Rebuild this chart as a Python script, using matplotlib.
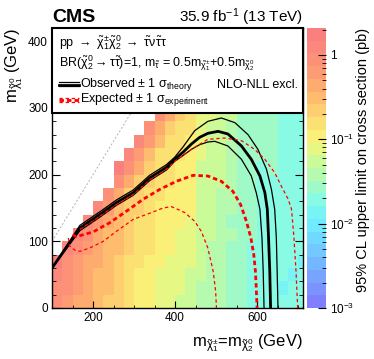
import numpy as np
import matplotlib
matplotlib.use("Agg")
import matplotlib.pyplot as plt
from matplotlib.colors import LinearSegmentedColormap, LogNorm
from matplotlib.patches import Rectangle
from matplotlib.ticker import LogLocator, MultipleLocator, NullFormatter

plt.rcParams['font.family'] = ['Liberation Sans', 'DejaVu Sans']
plt.rcParams['mathtext.fontset'] = 'custom'
plt.rcParams['mathtext.rm'] = 'Liberation Sans'
plt.rcParams['mathtext.it'] = 'Liberation Sans'
plt.rcParams['mathtext.bf'] = 'Liberation Sans:bold'

# bin edges of the limit map (GeV)
x_edges = np.arange(100, 750, 25)
y_edges = np.arange(0, 320, 20)

n = np.nan
# log10 of the 95% CL upper limit (pb), one row per 20 GeV bin in m_LSP (bottom first)
log_limit = [
    [-0.05, -0.15, -0.3, -0.4, -0.5, -0.6, -0.7, -0.85, -0.95, -1.0, -1.1, -1.15, -1.2, -1.25, -1.35, -1.4, -1.45, -1.55, -1.6, -1.65, -1.7, -1.75, -1.75, -1.75, -1.75],
    [0.0, -0.1, -0.25, -0.35, -0.45, -0.55, -0.65, -0.8, -0.9, -0.95, -1.05, -1.1, -1.15, -1.2, -1.35, -1.4, -1.45, -1.55, -1.6, -1.7, -1.7, -1.7, -1.8, -1.75, -1.75],
    [0.05, -0.1, -0.25, -0.35, -0.45, -0.5, -0.6, -0.8, -0.9, -0.95, -1.05, -1.1, -1.15, -1.2, -1.3, -1.45, -1.4, -1.5, -1.6, -1.65, -1.7, -1.75, -1.75, -1.8, -1.75],
    [0.2, -0.05, -0.2, -0.3, -0.4, -0.5, -0.6, -0.75, -0.85, -0.9, -1.0, -1.05, -1.1, -1.15, -1.3, -1.35, -1.4, -1.5, -1.6, -1.65, -1.7, -1.7, -1.75, -1.75, -1.8],
    [n, 0.15, -0.1, -0.25, -0.35, -0.45, -0.55, -0.7, -0.8, -0.85, -0.95, -1.0, -1.05, -1.1, -1.3, -1.35, -1.4, -1.5, -1.6, -1.65, -1.7, -1.7, -1.75, -1.75, -1.75],
    [n, n, 0.15, -0.1, -0.35, -0.45, -0.55, -0.7, -0.8, -0.85, -0.95, -1.0, -1.05, -1.1, -1.25, -1.3, -1.35, -1.45, -1.55, -1.6, -1.65, -1.65, -1.7, -1.7, -1.7],
    [n, n, n, 0.15, -0.15, -0.4, -0.5, -0.65, -0.75, -0.8, -0.9, -0.95, -1.0, -1.05, -1.25, -1.3, -1.35, -1.55, -1.55, -1.6, -1.65, -1.7, -1.7, -1.7, -1.7],
    [n, n, n, n, 0.05, -0.25, -0.45, -0.6, -0.7, -0.8, -0.9, -0.9, -1.0, -1.0, -1.25, -1.3, -1.35, -1.45, -1.55, -1.6, -1.65, -1.65, -1.7, -1.75, -1.7],
    [n, n, n, n, n, 0.0, -0.3, -0.6, -0.7, -0.75, -0.85, -0.9, -0.95, -1.0, -1.2, -1.25, -1.4, -1.4, -1.55, -1.6, -1.65, -1.65, -1.7, -1.7, -1.7],
    [n, n, n, n, n, n, -0.05, -0.35, -0.65, -0.7, -0.8, -0.85, -0.9, -0.95, -1.2, -1.25, -1.3, -1.4, -1.55, -1.6, -1.65, -1.65, -1.7, -1.7, -1.7],
    [n, n, n, n, n, n, 0.2, -0.1, -0.4, -0.7, -0.8, -0.85, -0.9, -0.95, -1.2, -1.25, -1.3, -1.4, -1.5, -1.6, -1.65, -1.6, -1.7, -1.7, -1.7],
    [n, n, n, n, n, n, n, 0.15, -0.15, -0.45, -0.75, -0.8, -0.85, -0.9, -1.15, -1.2, -1.25, -1.35, -1.5, -1.55, -1.6, -1.6, -1.65, -1.65, -1.65],
    [n, n, n, n, n, n, n, n, 0.05, -0.25, -0.55, -0.75, -0.85, -0.9, -1.15, -1.2, -1.25, -1.35, -1.5, -1.55, -1.6, -1.6, -1.65, -1.65, -1.65],
    [n, n, n, n, n, n, n, n, n, 0.0, -0.3, -0.6, -0.8, -0.85, -1.15, -1.2, -1.25, -1.35, -1.5, -1.55, -1.6, -1.6, -1.65, -1.65, -1.65],
    [n, n, n, n, n, n, n, n, n, n, -0.05, -0.35, -0.65, -0.8, -1.1, -1.15, -1.2, -1.3, -1.5, -1.55, -1.6, -1.6, -1.65, -1.65, -1.65],
]

# exclusion contours (m_chi, m_LSP) in GeV
obs_x = [100, 168, 216, 257, 298, 338, 379, 399, 420, 440, 460, 480, 505, 529, 562, 586, 607, 619, 625, 628, 631, 633]
obs_y = [60, 120, 140, 158, 173, 195, 211, 223, 234, 246, 256, 262, 265, 261, 243, 223, 198, 173, 148, 105, 55, 0]
obs_up_x = [100, 168, 216, 257, 298, 338, 379, 399, 420, 448, 480, 513, 546, 578, 602, 623, 635, 643, 647, 649, 651]
obs_up_y = [60, 124, 144, 162, 177, 199, 215, 226, 242, 266, 280, 285, 278, 260, 238, 208, 178, 148, 105, 55, 0]
obs_dn_x = [100, 168, 216, 257, 298, 338, 379, 399, 420, 440, 460, 480, 497, 529, 562, 586, 598, 607, 612, 615, 617]
obs_dn_y = [60, 116, 136, 154, 169, 191, 207, 220, 229, 238, 245, 249, 250, 243, 223, 198, 173, 148, 105, 55, 0]

exp_x = [150, 159, 200, 241, 281, 322, 363, 403, 444, 480, 513, 541, 560, 574, 585, 592, 596, 598, 600]
exp_y = [110, 107, 114, 128, 145, 163, 178, 190, 199, 198, 190, 175, 155, 130, 105, 80, 55, 30, 0]
exp_up_x = [168, 216, 257, 298, 338, 379, 399, 440, 480, 521, 562, 594, 619, 643, 659, 676, 684, 690, 695, 699]
exp_up_y = [118, 137, 155, 170, 192, 208, 220, 238, 253, 255, 251, 238, 223, 203, 183, 163, 148, 105, 55, 0]
exp_dn_x = [140, 143, 155, 168, 192, 225, 257, 298, 342, 371, 391, 403, 424, 448, 464, 480, 493, 499, 501]
exp_dn_y = [105, 93, 87, 85, 90, 100, 115, 133, 143, 150, 152, 149, 143, 130, 115, 90, 55, 25, 0]

cbar_ticks = [1e-3, 1e-2, 1e-1, 1]
cbar_labels = ['$10^{-3}$', '$10^{-2}$', '$10^{-1}$', '1']

# pastel rainbow palette, stops in log10(pb)
stops = [(-3.0, (128, 128, 255)), (-2.5, (115, 185, 255)), (-2.0, (110, 240, 255)),
         (-1.75, (135, 250, 230)), (-1.5, (170, 250, 185)), (-1.25, (205, 250, 150)),
         (-1.0, (250, 245, 120)), (-0.7, (252, 215, 112)), (-0.4, (255, 180, 110)),
         (-0.1, (252, 150, 118)), (0.32, (250, 128, 128))]
lo, hi = stops[0][0], stops[-1][0]
cmap = LinearSegmentedColormap.from_list(
    'pal', [((v - lo) / (hi - lo), tuple(c / 255 for c in rgb)) for v, rgb in stops]).resampled(22)
norm = LogNorm(10 ** lo, 10 ** hi)

fig = plt.figure(figsize=(3.74, 3.59), dpi=100)
ax = fig.add_axes([52 / 374, 51 / 359, 251 / 374, 280 / 359])

z = np.ma.masked_invalid(10 ** np.array(log_limit))
mesh = ax.pcolormesh(x_edges, y_edges, z, cmap=cmap, norm=norm, zorder=1)

ax.plot([100, 420], [100, 420], color='#b0b0b0', lw=0.7, ls=(0, (2, 2)), zorder=2)

ax.plot(obs_x, obs_y, color='black', lw=2.0, zorder=3)
ax.plot(obs_up_x, obs_up_y, color='black', lw=0.9, zorder=3)
ax.plot(obs_dn_x, obs_dn_y, color='black', lw=0.9, zorder=3)
ax.plot(exp_x, exp_y, color='red', lw=2.0, ls=(0, (1.6, 1.1)), zorder=3)
ax.plot(exp_up_x, exp_up_y, color='red', lw=0.9, ls=(0, (2.7, 2.2)), zorder=3)
ax.plot(exp_dn_x, exp_dn_y, color='red', lw=0.9, ls=(0, (2.7, 2.2)), zorder=3)

ax.set_xlim(100, 712)
ax.set_ylim(0, 420)
ax.xaxis.set_major_locator(MultipleLocator(200))
ax.xaxis.set_minor_locator(MultipleLocator(50))
ax.yaxis.set_major_locator(MultipleLocator(100))
ax.yaxis.set_minor_locator(MultipleLocator(20))
ax.tick_params(which='both', direction='in', right=True, labelsize=8.5, pad=3)
ax.tick_params(axis='y', which='major', length=6)
ax.tick_params(axis='y', which='minor', length=3)
ax.tick_params(axis='x', which='major', length=5)
ax.tick_params(axis='x', which='minor', length=2.5)
for s in ax.spines.values():
    s.set_linewidth(1.0)

ax.set_xlabel(r'm$_{\tilde{\chi}^{\pm}_{1}}$=m$_{\tilde{\chi}^{0}_{2}}$ (GeV)', fontsize=12, loc='right', labelpad=6)
ax.set_ylabel(r'm$_{\tilde{\chi}^{0}_{1}}$ (GeV)', fontsize=12, loc='top', labelpad=2)

# legend box
ax.add_patch(Rectangle((0, 0.696), 1, 0.304, transform=ax.transAxes, facecolor='white',
                       edgecolor='black', lw=1.5, zorder=5, clip_on=False))
ax.text(0.028, 0.946, r'pp $\rightarrow$ $\tilde{\chi}^{\pm}_{1}\tilde{\chi}^{0}_{2}$ $\rightarrow$ $\tilde{\tau}\nu\tilde{\tau}\tau$',
        transform=ax.transAxes, fontsize=9, va='center', zorder=6)
ax.text(0.028, 0.875, r'BR($\tilde{\chi}^{0}_{2}\rightarrow\tau\tilde{\tau}$)=1, m$_{\tilde{\tau}}$ = 0.5m$_{\tilde{\chi}^{\pm}_{1}}$+0.5m$_{\tilde{\chi}^{0}_{2}}$',
        transform=ax.transAxes, fontsize=9, va='center', zorder=6)
ax.text(0.112, 0.798, r'Observed $\pm$ 1 $\sigma_{\mathrm{theory}}$',
        transform=ax.transAxes, fontsize=9, va='center', zorder=6)
ax.text(0.98, 0.798, 'NLO-NLL excl.', transform=ax.transAxes, fontsize=9,
        va='center', ha='right', zorder=6)
ax.text(0.112, 0.743, r'Expected $\pm$ 1 $\sigma_{\mathrm{experiment}}$',
        transform=ax.transAxes, fontsize=9, va='center', zorder=6)
sx = [0.028, 0.106]
ax.plot(sx, [0.8054] * 2, color='black', lw=0.9, transform=ax.transAxes, zorder=6, clip_on=False)
ax.plot(sx, [0.7982] * 2, color='black', lw=2.0, transform=ax.transAxes, zorder=6, clip_on=False)
ax.plot(sx, [0.7911] * 2, color='black', lw=0.9, transform=ax.transAxes, zorder=6, clip_on=False)
ax.plot(sx, [0.751] * 2, color='red', lw=0.9, ls=(0, (2.7, 2.2)), transform=ax.transAxes, zorder=6, clip_on=False)
ax.plot(sx, [0.743] * 2, color='red', lw=2.0, ls=(0, (1.6, 1.1)), transform=ax.transAxes, zorder=6, clip_on=False)
ax.plot(sx, [0.735] * 2, color='red', lw=0.9, ls=(0, (2.7, 2.2)), transform=ax.transAxes, zorder=6, clip_on=False)

fig.text(52 / 374, 337 / 359, 'CMS', fontsize=14, fontweight='bold', ha='left', va='baseline')
fig.text(303 / 374, 337 / 359, r'35.9 fb$^{-1}$ (13 TeV)', fontsize=11, ha='right', va='baseline')

# colour bar
cax = fig.add_axes([307 / 374, 51 / 359, 19 / 374, 280 / 359])
cbar = fig.colorbar(mesh, cax=cax)
cbar.outline.set_visible(False)
cbar.set_ticks(cbar_ticks)
cbar.set_ticklabels(cbar_labels)
cax.yaxis.set_minor_locator(LogLocator(base=10, subs=np.arange(2, 10)))
cax.yaxis.set_minor_formatter(NullFormatter())
cax.tick_params(which='both', direction='in', right=True, left=False, labelsize=8.5, pad=3)
cax.tick_params(which='major', length=6)
cax.tick_params(which='minor', length=3)
cax.set_ylabel('95% CL upper limit on cross section (pb)', fontsize=10.5, loc='top', labelpad=1)

fig.savefig('out.png', dpi=100)
